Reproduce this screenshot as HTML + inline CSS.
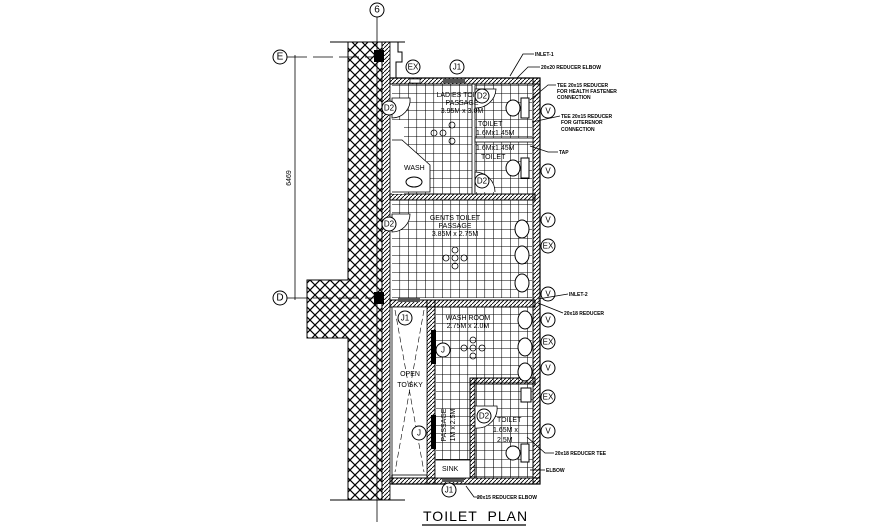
<!DOCTYPE html>
<html><head><meta charset="utf-8"><style>
html,body{margin:0;padding:0;background:#fff;}
svg{display:block;}
text{font-family:"Liberation Sans",sans-serif;fill:#000;}
.s{font-size:5px;font-weight:bold;}
.l{font-size:7px;}
.c{font-size:10px;text-anchor:middle;dominant-baseline:central;}
</style></head><body>
<svg width="895" height="528" viewBox="0 0 895 528" xmlns="http://www.w3.org/2000/svg">
<defs>
<pattern id="xh" width="10" height="10" patternUnits="userSpaceOnUse">
<path d="M0,0L10,10M10,0L0,10" stroke="#000" stroke-width="1.2"/>
</pattern>
<pattern id="dh" width="4" height="4" patternUnits="userSpaceOnUse">
<path d="M0,4L4,0" stroke="#000" stroke-width="0.9"/>
</pattern>
<pattern id="tile" width="8.5" height="8.5" patternUnits="userSpaceOnUse">
<path d="M0,0H8.5M0,0V8.5" stroke="#000" stroke-width="1.1" fill="none"/>
</pattern>
</defs>

<circle cx="377" cy="10" r="7" fill="none" stroke="#000"/>
<text x="377" y="10" class="c">6</text>
<line x1="377" y1="17" x2="377" y2="522" stroke="#000" stroke-width="0.8"/>
<circle cx="280" cy="57" r="7" fill="none" stroke="#000"/>
<text x="280" y="57" class="c">E</text>
<line x1="287" y1="57" x2="380" y2="57" stroke="#000" stroke-width="0.8" stroke-dasharray="20,6"/>
<circle cx="280" cy="298" r="7" fill="none" stroke="#000"/>
<text x="280" y="298" class="c">D</text>
<line x1="287" y1="298" x2="380" y2="298" stroke="#000" stroke-width="0.8" stroke-dasharray="20,6"/>
<line x1="295" y1="55" x2="295" y2="300" stroke="#000" stroke-width="0.8"/>
<text x="291" y="178" class="l" transform="rotate(-90 291 178)" text-anchor="middle">6469</text>

<line x1="330" y1="42" x2="405" y2="42" stroke="#000"/>
<line x1="330" y1="500" x2="405" y2="500" stroke="#000"/>

<path d="M348,42H382V500H348V338H307V280H348Z" fill="url(#xh)" stroke="#000"/>
<rect x="382" y="42" width="8" height="458" fill="url(#dh)" stroke="#000" stroke-width="0.8"/>
<rect x="374" y="50" width="10" height="12" fill="#000"/>
<rect x="374" y="292" width="10" height="12" fill="#000"/>
<path d="M390,42H398V52H402V62H396V78" fill="none" stroke="#000"/>

<rect x="392" y="84" width="140" height="110" fill="url(#tile)"/>
<rect x="392" y="200" width="140" height="98" fill="url(#tile)"/>
<rect x="436" y="307" width="96" height="170" fill="url(#tile)"/>

<path d="M390,78H540V484H392V475" fill="none" stroke="#000" stroke-width="1.2"/>
<rect x="390" y="78" width="150" height="6" fill="url(#dh)" stroke="#000" stroke-width="1"/>
<rect x="533" y="78" width="7" height="406" fill="url(#dh)" stroke="#000" stroke-width="1"/>
<rect x="390" y="478" width="150" height="6" fill="url(#dh)" stroke="#000" stroke-width="1"/>
<rect x="390" y="194" width="145" height="6" fill="url(#dh)" stroke="#000" stroke-width="1"/>
<rect x="390" y="300" width="145" height="7" fill="url(#dh)" stroke="#000" stroke-width="1"/>
<rect x="427" y="300" width="8" height="184" fill="url(#dh)" stroke="#000" stroke-width="1"/>
<rect x="470" y="378" width="65" height="6" fill="url(#dh)" stroke="#000" stroke-width="1"/>
<rect x="470" y="378" width="5" height="100" fill="url(#dh)" stroke="#000" stroke-width="1"/>
<rect x="472" y="84" width="3" height="110" fill="#fff" stroke="#000" stroke-width="0.8"/>
<rect x="475" y="138" width="58" height="4" fill="#fff" stroke="#000" stroke-width="0.8"/>
<rect x="392" y="120" width="12" height="74" fill="#fff" stroke="none"/>
<path d="M392,140H402L430,165V192H392" fill="#fff" stroke="#000" stroke-width="0.8"/>
<text x="404" y="170" class="l">WASH</text>
<ellipse cx="414" cy="182" rx="8" ry="5" fill="#fff" stroke="#000"/>

<rect x="392" y="307" width="35" height="168" fill="#fff" stroke="#000" stroke-width="0.8"/>
<path d="M395,310L424,472M424,310L395,472" stroke="#000" stroke-width="0.6" stroke-dasharray="6,3"/>
<text x="410" y="376" class="l" text-anchor="middle">OPEN</text>
<text x="410" y="387" class="l" text-anchor="middle">TO SKY</text>
<rect x="431" y="330" width="5" height="34" fill="#000"/>
<rect x="431" y="415" width="5" height="34" fill="#000"/>
<rect x="398" y="298" width="22" height="4" fill="#555"/>
<rect x="442" y="478" width="22" height="4" fill="#555"/>
<rect x="443" y="79" width="22" height="4" fill="#555"/>
<rect x="410" y="79" width="10" height="4" fill="#fff" stroke="#000" stroke-width="0.6"/>

<rect x="435" y="460" width="35" height="18" fill="#fff" stroke="#000" stroke-width="0.8"/>
<text x="442" y="471" class="l">SINK</text>
<rect x="475" y="384" width="58" height="94" fill="url(#tile)"/>

<g fill="#fff" stroke="#000" stroke-width="1">
<ellipse cx="513" cy="108" rx="7" ry="8"/><rect x="521" y="98" width="8" height="20"/>
<ellipse cx="513" cy="168" rx="7" ry="8"/><rect x="521" y="158" width="8" height="20"/>
<ellipse cx="522" cy="229" rx="7" ry="9"/><ellipse cx="522" cy="255" rx="7" ry="9"/><ellipse cx="522" cy="283" rx="7" ry="9"/>
<ellipse cx="525" cy="320" rx="7" ry="9"/><ellipse cx="525" cy="347" rx="7" ry="9"/><ellipse cx="525" cy="372" rx="7" ry="9"/>
<rect x="521" y="388" width="10" height="14"/>
<ellipse cx="513" cy="453" rx="7" ry="7"/><rect x="521" y="444" width="8" height="18"/>
</g>

<g fill="#fff" stroke="#000" stroke-width="0.8">
<path d="M392,98H410A18,18 0 0 1 392,118Z"/>
<path d="M392,214H410A18,18 0 0 1 392,232Z"/>
<path d="M475,89H496A20,20 0 0 1 475,108Z"/>
<path d="M475,192V172A20,20 0 0 1 495,192"/>
<path d="M475,406H497A20,20 0 0 1 475,428Z"/>
</g>

<text x="462" y="97" class="l" text-anchor="middle">LADIES TOILET</text>
<text x="462" y="105" class="l" text-anchor="middle">PASSAGE</text>
<text x="462" y="113" class="l" text-anchor="middle">3.95M x 3.0M</text>
<text x="478" y="126" class="l">TOILET</text>
<text x="476" y="135" class="l">1.6Mx1.45M</text>
<text x="476" y="150" class="l">1.6Mx1.45M</text>
<text x="481" y="159" class="l">TOILET</text>
<text x="455" y="220" class="l" text-anchor="middle">GENTS TOILET</text>
<text x="455" y="228" class="l" text-anchor="middle">PASSAGE</text>
<text x="455" y="236" class="l" text-anchor="middle">3.85M x 2.75M</text>
<text x="468" y="320" class="l" text-anchor="middle">WASH ROOM</text>
<text x="468" y="328" class="l" text-anchor="middle">2.75M x 2.0M</text>
<text x="446" y="425" class="l" transform="rotate(-90 446 425)" text-anchor="middle">PASSAGE</text>
<text x="455" y="425" class="l" transform="rotate(-90 455 425)" text-anchor="middle">1M x 2.5M</text>
<text x="497" y="422" class="l">TOILET</text>
<text x="493" y="432" class="l">1.65M x</text>
<text x="497" y="442" class="l">2.5M</text>

<g fill="#fff" stroke="#000" stroke-width="1">
<circle cx="413" cy="67" r="7"/><circle cx="457" cy="67" r="7"/>
<circle cx="389" cy="108" r="7"/><circle cx="482" cy="96" r="7"/><circle cx="482" cy="181" r="7"/>
<circle cx="389" cy="224" r="7"/><circle cx="484" cy="416" r="7"/>
<circle cx="405" cy="318" r="7"/><circle cx="443" cy="350" r="7"/><circle cx="419" cy="433" r="7"/>
<circle cx="449" cy="490" r="7"/>
<circle cx="548" cy="111" r="7"/><circle cx="548" cy="171" r="7"/>
<circle cx="548" cy="220" r="7"/><circle cx="548" cy="246" r="7"/><circle cx="548" cy="294" r="7"/>
<circle cx="548" cy="320" r="7"/><circle cx="548" cy="342" r="7"/><circle cx="548" cy="368" r="7"/>
<circle cx="548" cy="397" r="7"/><circle cx="548" cy="431" r="7"/>
</g>
<g>
<text x="413" y="67" class="c" style="font-size:8px">EX</text><text x="457" y="67" class="c" style="font-size:8px">J1</text>
<text x="389" y="108" class="c" style="font-size:8px">D2</text><text x="482" y="96" class="c" style="font-size:8px">D2</text><text x="482" y="181" class="c" style="font-size:8px">D2</text>
<text x="389" y="224" class="c" style="font-size:8px">D2</text><text x="484" y="416" class="c" style="font-size:8px">D2</text>
<text x="405" y="318" class="c" style="font-size:8px">J1</text><text x="443" y="350" class="c" style="font-size:8px">J</text><text x="419" y="433" class="c" style="font-size:8px">J</text>
<text x="449" y="490" class="c" style="font-size:8px">J1</text>
<text x="548" y="111" class="c" style="font-size:8px">V</text><text x="548" y="171" class="c" style="font-size:8px">V</text>
<text x="548" y="220" class="c" style="font-size:8px">V</text><text x="548" y="246" class="c" style="font-size:8px">EX</text><text x="548" y="294" class="c" style="font-size:8px">V</text>
<text x="548" y="320" class="c" style="font-size:8px">V</text><text x="548" y="342" class="c" style="font-size:8px">EX</text><text x="548" y="368" class="c" style="font-size:8px">V</text>
<text x="548" y="397" class="c" style="font-size:8px">EX</text><text x="548" y="431" class="c" style="font-size:8px">V</text>
</g>

<g fill="none" stroke="#000" stroke-width="0.8">
<circle cx="443" cy="133" r="3"/><circle cx="452" cy="125" r="3"/><circle cx="452" cy="141" r="3"/><circle cx="434" cy="133" r="3"/>
<circle cx="455" cy="258" r="3"/><circle cx="446" cy="258" r="3"/><circle cx="464" cy="258" r="3"/><circle cx="455" cy="250" r="3"/><circle cx="455" cy="266" r="3"/>
<circle cx="473" cy="348" r="3"/><circle cx="464" cy="348" r="3"/><circle cx="482" cy="348" r="3"/><circle cx="473" cy="340" r="3"/><circle cx="473" cy="356" r="3"/>
</g>

<g stroke="#000" stroke-width="0.8" fill="none">
<path d="M510,76L523,54H534"/><path d="M517,78L528,67H540"/>
<path d="M530,100L548,85H556"/><path d="M532,122L560,116"/>
<path d="M530,146L548,152H558"/>
<path d="M538,299L568,294"/><path d="M538,303L563,313"/>
<path d="M527,437L545,453H554"/><path d="M530,470L545,470"/>
<path d="M466,486L474,497H480"/>
</g>
<g class="s">
<text x="535" y="56">INLET-1</text>
<text x="541" y="69">20x20 REDUCER ELBOW</text>
<text x="557" y="87">TEE 20x15 REDUCER</text>
<text x="557" y="93">FOR HEALTH FASTENER</text>
<text x="557" y="99">CONNECTION</text>
<text x="561" y="118">TEE 20x15 REDUCER</text>
<text x="561" y="124">FOR GITERENOR</text>
<text x="561" y="131">CONNECTION</text>
<text x="559" y="154">TAP</text>
<text x="569" y="296">INLET-2</text>
<text x="564" y="315">20x18 REDUCER</text>
<text x="555" y="455">20x18 REDUCER TEE</text>
<text x="546" y="472">ELBOW</text>
<text x="477" y="499">20x15 REDUCER ELBOW</text>
</g>

<text x="423" y="521" style="font-size:14px;letter-spacing:1px">TOILET&#160;&#160;PLAN</text>
<line x1="422" y1="525" x2="526" y2="525" stroke="#000" stroke-width="1.2"/>
</svg>
</body></html>
